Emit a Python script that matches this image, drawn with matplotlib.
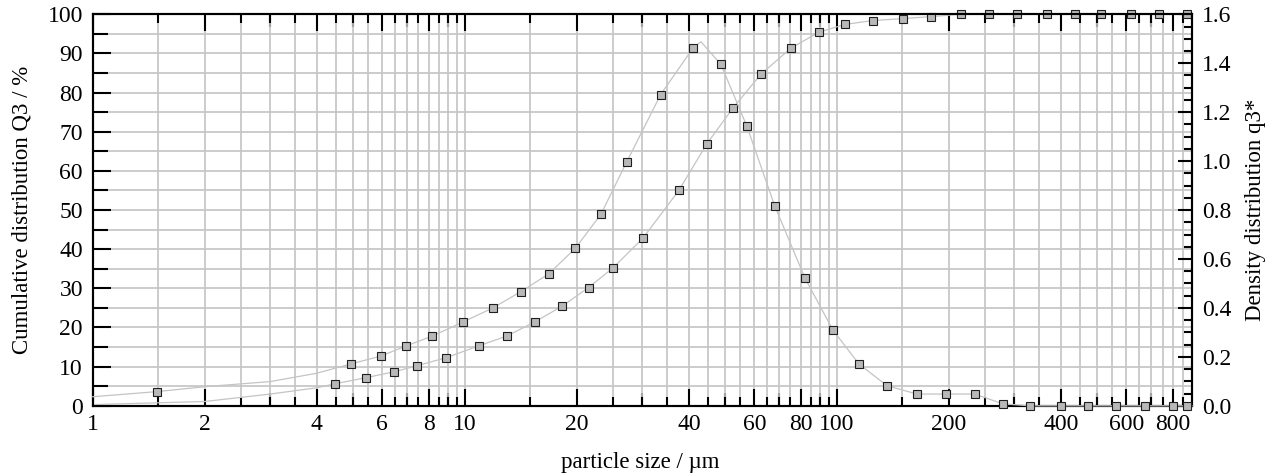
import matplotlib
matplotlib.use('Agg')
import matplotlib.pyplot as plt
from matplotlib.ticker import FixedLocator, FuncFormatter, MultipleLocator

# --- Data ---
# cumulative distribution Q3 (%), markers
q3_size = [4.47, 5.44, 6.46, 7.42, 8.92, 10.9, 12.95, 15.4, 18.3, 21.5, 25.0, 30.1,
           37.6, 44.7, 52.5, 62.5, 75.1, 89.3, 104.9, 124.7, 150.2, 178.6, 215.2,
           256, 304, 366, 436, 512, 617, 733, 871]
q3_val = [5.6, 7.2, 8.7, 10.2, 12.3, 15.3, 17.8, 21.4, 25.5, 30.2, 35.2, 42.8,
          55.0, 66.9, 76.0, 84.7, 91.3, 95.4, 97.4, 98.4, 98.9, 99.4, 100,
          100, 100, 100, 100, 100, 100, 100, 100]

# density distribution q3*, markers
dens_size = [1.49, 4.94, 5.94, 6.97, 8.18, 9.87, 11.9, 14.13, 16.8, 19.8, 23.2, 27.2,
             33.6, 41.0, 48.8, 57.3, 68.1, 82.0, 97.5, 114.6, 136.3, 164.1, 196.9,
             234.6, 279, 331, 399.6, 474, 564, 671, 798, 872]
dens_val = [0.058, 0.171, 0.203, 0.245, 0.285, 0.342, 0.400, 0.466, 0.539, 0.643, 0.782, 0.995,
            1.272, 1.461, 1.395, 1.142, 0.816, 0.523, 0.310, 0.171, 0.082, 0.048, 0.048,
            0.048, 0.008, 0.0, 0.0, 0.0, 0.0, 0.0, 0.0, 0.0]

# curve points beyond the markers
q3_head_size = [1, 2, 3, 4]
q3_head_val = [0.3, 1.1, 3.0, 4.6]
dens_head_size = [1, 2, 3, 4]
dens_head_val = [0.037, 0.078, 0.099, 0.133]
dens_peak_size, dens_peak_val = 43.1, 1.488
x_end = 900

# tick labels
x_labeled = [1, 2, 4, 6, 8, 10, 20, 40, 60, 80, 100, 200, 400, 600, 800]
x_mid = [3, 5, 7, 9, 30, 50, 70, 90, 300, 500, 700]
x_half = [d * m for d in (1, 10, 100) for m in (1.5, 2.5, 3.5, 4.5, 5.5, 6.5, 7.5, 8.5, 9.5)
          if d * m < x_end]

# --- Styling ---
plt.rcParams.update({
    'font.family': 'Liberation Serif',
    'font.size': 16.5,
    'xtick.labelsize': 17,
    'ytick.labelsize': 17,
})
grid_c = '#c4c4c4'
line_c = '#c4c4c4'
face_c = '#b8b8b8'

fig = plt.figure(figsize=(12.75, 4.75), dpi=100)
ax = fig.add_axes([0.0727, 0.1457, 0.8622, 0.8242])
ax2 = ax.twinx()

ax.set_xscale('log')
ax.set_xlim(1, x_end)
ax.set_ylim(0, 100)
ax2.set_ylim(0, 1.6)

# lines
q3_line_x = q3_head_size + q3_size + [x_end]
q3_line_y = q3_head_val + q3_val + [100]
ipk = dens_size.index(41.0) + 1
dens_line_x = dens_head_size[:1] + [dens_size[0]] + dens_head_size[1:] + dens_size[1:ipk] \
    + [dens_peak_size] + dens_size[ipk:] + [x_end]
dens_line_y = dens_head_val[:1] + [dens_val[0]] + dens_head_val[1:] + dens_val[1:ipk] \
    + [dens_peak_val] + dens_val[ipk:] + [0.0]

ax.plot(q3_line_x, q3_line_y, color=line_c, lw=0.9, zorder=3, clip_on=False)
ax2.plot(dens_line_x, dens_line_y, color=line_c, lw=0.9, zorder=3, clip_on=False)
ax.plot(q3_size, q3_val, ls='none', marker='s', ms=6, mfc=face_c, mec='#1e1e1e', mew=0.8,
        zorder=4, clip_on=False)
ax2.plot(dens_size, dens_val, ls='none', marker='s', ms=6, mfc=face_c, mec='#1e1e1e', mew=0.8,
         zorder=4, clip_on=False)

# x ticks
ax.xaxis.set_major_locator(FixedLocator(x_labeled))
ax.xaxis.set_major_formatter(FuncFormatter(lambda v, p: f'{v:g}'))
ax.xaxis.set_minor_locator(FixedLocator(x_mid + x_half))
ax.xaxis.set_minor_formatter(FuncFormatter(lambda v, p: ''))
ax.tick_params(axis='x', which='major', direction='in', length=12.5, width=1.5,
               top=True, pad=6)
ax.tick_params(axis='x', which='minor', direction='in', length=6.5, width=1.5, top=True)

for loc in ('bottom', 'top'):
    sec = ax.secondary_xaxis(loc)
    sec.set_xticks(x_mid)
    sec.tick_params(which='major', direction='in', length=9.5, width=1.5,
                    labelbottom=False, labeltop=False)
    sec.tick_params(which='minor', length=0)
    sec.xaxis.set_minor_formatter(FuncFormatter(lambda v, p: ''))
    for s in sec.spines.values():
        s.set_visible(False)

# left y ticks
ax.yaxis.set_major_locator(MultipleLocator(10))
ax.yaxis.set_minor_locator(MultipleLocator(5))
ax.tick_params(axis='y', which='major', direction='in', length=13, width=1.5, pad=7,
               right=False)
ax.tick_params(axis='y', which='minor', direction='in', length=10.5, width=1.5, right=False)

# right y ticks
ax2.yaxis.set_major_locator(MultipleLocator(0.2))
ax2.yaxis.set_minor_locator(MultipleLocator(0.05))
ax2.yaxis.set_major_formatter(FuncFormatter(lambda v, p: f'{v:.1f}'))
ax2.tick_params(axis='y', which='major', direction='in', length=10, width=1.5, pad=7)
ax2.tick_params(axis='y', which='minor', direction='in', length=6, width=1.5)

ax.grid(True, which='both', color=grid_c, lw=1.2)
ax.set_axisbelow(True)

for a in (ax, ax2):
    for s in a.spines.values():
        s.set_linewidth(1.5)
        s.set_color('black')

ax.set_xlabel('particle size / µm')
ax.xaxis.set_label_coords(0.498, -0.118)
ax.set_ylabel('Cumulative distribution Q3 / %')
ax.yaxis.set_label_coords(-0.055, 0.5)
ax2.set_ylabel('Density distribution q3*')
ax2.yaxis.set_label_coords(1.048, 0.5)

fig.savefig('out.png', dpi=100)
